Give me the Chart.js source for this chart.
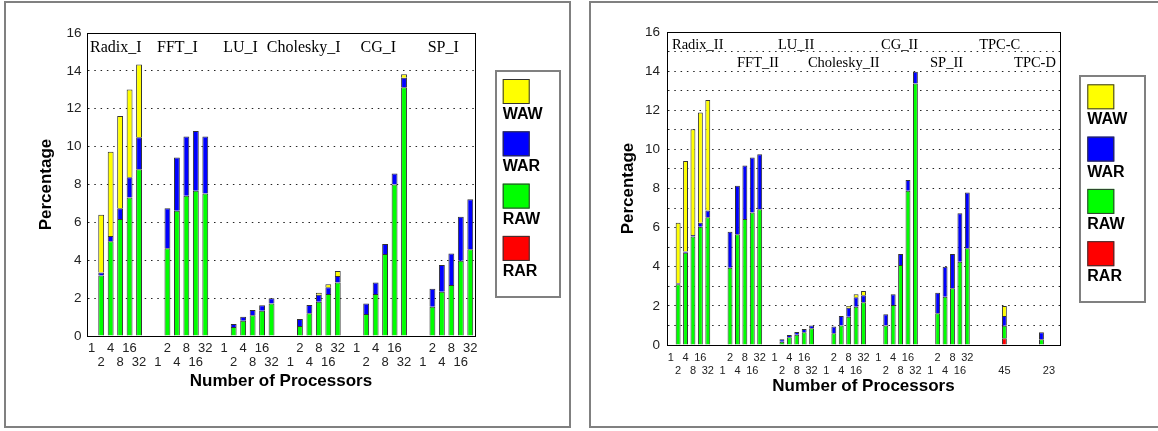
<!DOCTYPE html>
<html>
<head>
<meta charset="utf-8">
<script src="https://cdn.jsdelivr.net/npm/chart.js@4"></script>
<style>
html, body { margin: 0; padding: 0; width: 1158px; height: 431px; overflow: hidden; background: #fff; }
.frame { position: absolute; border: 2px solid #808080; box-sizing: border-box; }
canvas { position: absolute; top: 0; }
</style>
</head>
<body>
<div class="frame" style="left:4px;top:1px;width:567px;height:427px"></div>
<div class="frame" style="left:589px;top:1px;width:600px;height:427px"></div>
<canvas id="chartI" width="580" height="431" style="left:0"></canvas>
<canvas id="chartII" width="578" height="431" style="left:580px"></canvas>
<script>
// processor counts of one benchmark group
var procs = ['1', '2', '4', '8', '16', '32'];

// ---- left plot (_I) ----
var groupsI = ['Radix_I', 'FFT_I', 'LU_I', 'Cholesky_I', 'CG_I', 'SP_I'];
var rawI = [
  [0, 3.2, 5.0, 6.18, 7.32, 8.8],
  [0, 4.63, 6.62, 7.41, 7.67, 7.53],
  [0, 0.48, 0.8, 1.1, 1.33, 1.72],
  [0, 0.53, 1.2, 1.81, 2.22, 2.82],
  [0, 1.16, 2.22, 4.33, 8.0, 13.13],
  [0, 1.55, 2.34, 2.69, 3.98, 4.58]
];
var warI = [
  [0, 0.15, 0.28, 0.56, 1.06, 1.69],
  [0, 2.11, 2.81, 3.12, 3.15, 3.0],
  [0, 0.15, 0.22, 0.27, 0.29, 0.27],
  [0, 0.37, 0.44, 0.37, 0.35, 0.35],
  [0, 0.56, 0.61, 0.53, 0.58, 0.51],
  [0, 0.95, 1.41, 1.67, 2.32, 2.64]
];
var wawI = [
  [0, 3.05, 4.45, 4.88, 4.64, 3.85],
  [0, 0, 0, 0, 0, 0],
  [0, 0, 0, 0, 0, 0],
  [0, 0, 0, 0.1, 0.16, 0.26],
  [0, 0, 0, 0, 0, 0.18],
  [0, 0, 0, 0, 0, 0]
];
var rarI = [
  [0, 0, 0, 0, 0, 0],
  [0, 0, 0, 0, 0, 0],
  [0, 0, 0, 0, 0, 0],
  [0, 0, 0, 0, 0, 0],
  [0, 0, 0, 0, 0, 0],
  [0, 0, 0, 0, 0, 0]
];

// ---- right plot (_II) ----
var groupsII = ['Radix_II', 'FFT_II', 'LU_II', 'Cholesky_II', 'CG_II', 'SP_II', 'TPC-C', 'TPC-D'];
var rawII = [
  [0, 3.1, 4.72, 5.54, 6.05, 6.53],
  [0, 3.95, 5.66, 6.44, 6.77, 6.94],
  [0, 0.17, 0.39, 0.53, 0.65, 0.85],
  [0, 0.6, 1.0, 1.45, 1.96, 2.18],
  [0, 1.0, 2.04, 4.09, 7.89, 13.37],
  [0, 1.62, 2.47, 2.9, 4.26, 4.94]
];
var warII = [
  [0, 0.06, 0.06, 0.08, 0.2, 0.34],
  [0, 1.84, 2.48, 2.73, 2.82, 2.81],
  [0, 0.12, 0.12, 0.13, 0.17, 0.15],
  [0, 0.34, 0.48, 0.46, 0.48, 0.36],
  [0, 0.57, 0.55, 0.56, 0.54, 0.6],
  [0, 1.05, 1.53, 1.75, 2.47, 2.85]
];
var wawII = [
  [0, 3.09, 4.63, 5.41, 5.64, 5.65],
  [0, 0, 0, 0, 0, 0],
  [0, 0, 0, 0, 0, 0],
  [0, 0, 0, 0.08, 0.15, 0.22],
  [0, 0, 0, 0, 0, 0],
  [0, 0, 0, 0, 0, 0]
];
var rarII = [
  [0, 0, 0, 0, 0, 0],
  [0, 0, 0, 0, 0, 0],
  [0, 0, 0, 0, 0, 0],
  [0, 0, 0, 0, 0, 0],
  [0, 0, 0, 0, 0, 0],
  [0, 0, 0, 0, 0, 0]
];
// TPC-C (45 procs) and TPC-D (23 procs) slots after the SP_II group
var tpcLabels = ['', '', '', '', '45', '', '', '', '', '', '23', ''];
var tpcRAR = [0, 0, 0, 0, 0.34, 0, 0, 0, 0, 0, 0, 0];
var tpcRAW = [0, 0, 0, 0, 0.65, 0, 0, 0, 0, 0.29, 0, 0];
var tpcWAR = [0, 0, 0, 0, 0.49, 0, 0, 0, 0, 0.36, 0, 0];
var tpcWAW = [0, 0, 0, 0, 0.51, 0, 0, 0, 0, 0, 0, 0];


// groups of 6 separated by one empty slot
function flatten(groups, tail) {
  var out = [];
  groups.forEach(function (g, i) {
    if (i > 0) out.push(typeof g[0] === 'string' ? '' : 0);
    out = out.concat(g);
  });
  return out.concat(tail || []);
}

// labels alternate between two rows
function twoRows(labels) {
  return labels.map(function (t, i) { return i % 2 === 0 ? [t, ''] : ['', t]; });
}

function makeDatasets(rar, raw, war, waw) {
  return [
    { label: 'RAR', data: rar, backgroundColor: '#ff0000' },
    { label: 'RAW', data: raw, backgroundColor: '#00ff00' },
    { label: 'WAR', data: war, backgroundColor: '#0000ff' },
    { label: 'WAW', data: waw, backgroundColor: '#ffff00' }
  ].map(function (d) {
    d.borderColor = '#333333';
    d.borderWidth = 1;
    return d;
  });
}

Chart.defaults.font.family = '"Liberation Sans", Arial, sans-serif';

var plotFrame = {
  id: 'plotFrame',
  afterDraw: function (chart) {
    var a = chart.chartArea, ctx = chart.ctx;
    ctx.save();
    ctx.strokeStyle = '#000';
    ctx.lineWidth = 1;
    ctx.strokeRect(Math.round(a.left) + 0.5, Math.round(a.top) + 0.5,
      Math.round(a.right - a.left), Math.round(a.bottom - a.top));
    ctx.restore();
  }
};

var groupLabels = {
  id: 'groupLabels',
  afterDatasetsDraw: function (chart, args, o) {
    var ctx = chart.ctx, x = chart.scales.x, y = chart.scales.y;
    ctx.save();
    ctx.font = o.size + 'px "Liberation Serif", "Times New Roman", serif';
    ctx.fillStyle = '#000';
    ctx.textAlign = 'left';
    ctx.textBaseline = 'alphabetic';
    o.names.forEach(function (name, i) {
      ctx.fillText(name, x.getPixelForValue(o.at[i]), y.getPixelForValue(o.level[i]));
    });
    ctx.restore();
  }
};

var boxLegend = {
  id: 'boxLegend',
  afterDraw: function (chart, args, o) {
    var ctx = chart.ctx;
    var bx = chart.chartArea.right + o.dx, by = o.top;
    ctx.save();
    ctx.fillStyle = '#fff';
    ctx.fillRect(bx, by, o.w, o.h);
    ctx.strokeStyle = '#808080';
    ctx.lineWidth = 2;
    ctx.strokeRect(bx, by, o.w, o.h);
    ctx.font = 'bold 16px "Liberation Sans", Arial, sans-serif';
    ctx.textAlign = 'left';
    ctx.textBaseline = 'alphabetic';
    chart.data.datasets.slice().reverse().forEach(function (ds, i) {
      var sx = bx + o.padX, sy = by + o.padY + i * o.step;
      ctx.fillStyle = ds.backgroundColor;
      ctx.fillRect(sx, sy, o.sw, o.sh);
      ctx.strokeStyle = '#333';
      ctx.lineWidth = 1;
      ctx.strokeRect(sx + 0.5, sy + 0.5, o.sw - 1, o.sh - 1);
      ctx.fillStyle = '#000';
      ctx.fillText(ds.label, sx, sy + o.textDy);
    });
    ctx.restore();
  }
};

function makeChart(id, labels, datasets, opt) {
  return new Chart(document.getElementById(id), {
    type: 'bar',
    data: { labels: twoRows(labels), datasets: datasets },
    plugins: [plotFrame, groupLabels, boxLegend],
    options: {
      responsive: false,
      animation: false,
      events: [],
      barPercentage: opt.barPct,
      categoryPercentage: 1,
      layout: { padding: { top: opt.top, right: opt.right, bottom: 0, left: 0 } },
      scales: {
        x: {
          stacked: true,
          afterFit: function (s) { s.height = opt.xHeight; },
          grid: { display: false, drawTicks: false },
          border: { display: true, color: '#000' },
          ticks: {
            autoSkip: false, maxRotation: 0, minRotation: 0,
            padding: opt.xPad, color: '#222',
            font: { size: opt.xFont, lineHeight: opt.xLine }
          },
          title: {
            display: true, text: 'Number of Processors', color: '#000',
            font: { size: 17, weight: 'bold' },
            padding: { top: 0, bottom: opt.xTitlePad }
          }
        },
        y: {
          stacked: true,
          min: 0, max: 16,
          afterFit: function (s) { s.width = 87; },
          grid: { color: '#222', lineWidth: 1, drawTicks: false },
          border: { display: true, color: '#000', dash: [1.5, 4.8] },
          ticks: {
            stepSize: 1, padding: opt.yPad, color: '#222',
            font: { size: 13.5 },
            callback: function (v) { return v % 2 === 0 ? v : ''; }
          },
          title: {
            display: true, text: 'Percentage', color: '#000',
            font: { size: 17, weight: 'bold' },
            padding: { top: opt.yTitlePad, bottom: 0 }
          }
        }
      },
      plugins: {
        legend: { display: false },
        tooltip: { enabled: false },
        groupLabels: opt.groups,
        boxLegend: opt.legend
      }
    }
  });
}

var labelsI = flatten(groupsI.map(function () { return procs; }));
makeChart('chartI', labelsI,
  makeDatasets(flatten(rarI), flatten(rawI), flatten(warI), flatten(wawI)),
  {
    barPct: 0.62, top: 33, right: 105, xHeight: 95,
    xPad: 5, xFont: 13, xLine: 1.1, xTitlePad: 39, yPad: 5.5, yTitlePad: 36.5,
    groups: {
      names: groupsI, size: 16,
      at: [-0.18, 6.9, 13.9, 18.5, 28.4, 35.5],
      level: [15.02, 15.02, 15.02, 15.02, 15.02, 15.02]
    },
    legend: { dx: 21, top: 71, w: 64, h: 226, padX: 6.7, padY: 8, sw: 27, sh: 25, step: 52.3, textDy: 40 }
  });

var labelsII = flatten(groupsII.slice(0, 6).map(function () { return procs; }), tpcLabels);
makeChart('chartII', labelsII,
  makeDatasets(flatten(rarII, tpcRAR), flatten(rawII, tpcRAW), flatten(warII, tpcWAR), flatten(wawII, tpcWAW)),
  {
    barPct: 0.66, top: 32, right: 98, xHeight: 86,
    xPad: 6, xFont: 11, xLine: 1.2, xTitlePad: 34, yPad: 7, yTitlePad: 37.8,
    groups: {
      names: groupsII, size: 14.5,
      at: [0.17, 8.94, 14.47, 18.5, 28.36, 34.97, 41.6, 46.3],
      level: [15.12, 14.23, 15.12, 14.23, 15.12, 14.23, 15.12, 14.23]
    },
    legend: { dx: 20, top: 76, w: 65, h: 226, padX: 7.3, padY: 8.3, sw: 27, sh: 25, step: 52.3, textDy: 40 }
  });
</script>
</body>
</html>
